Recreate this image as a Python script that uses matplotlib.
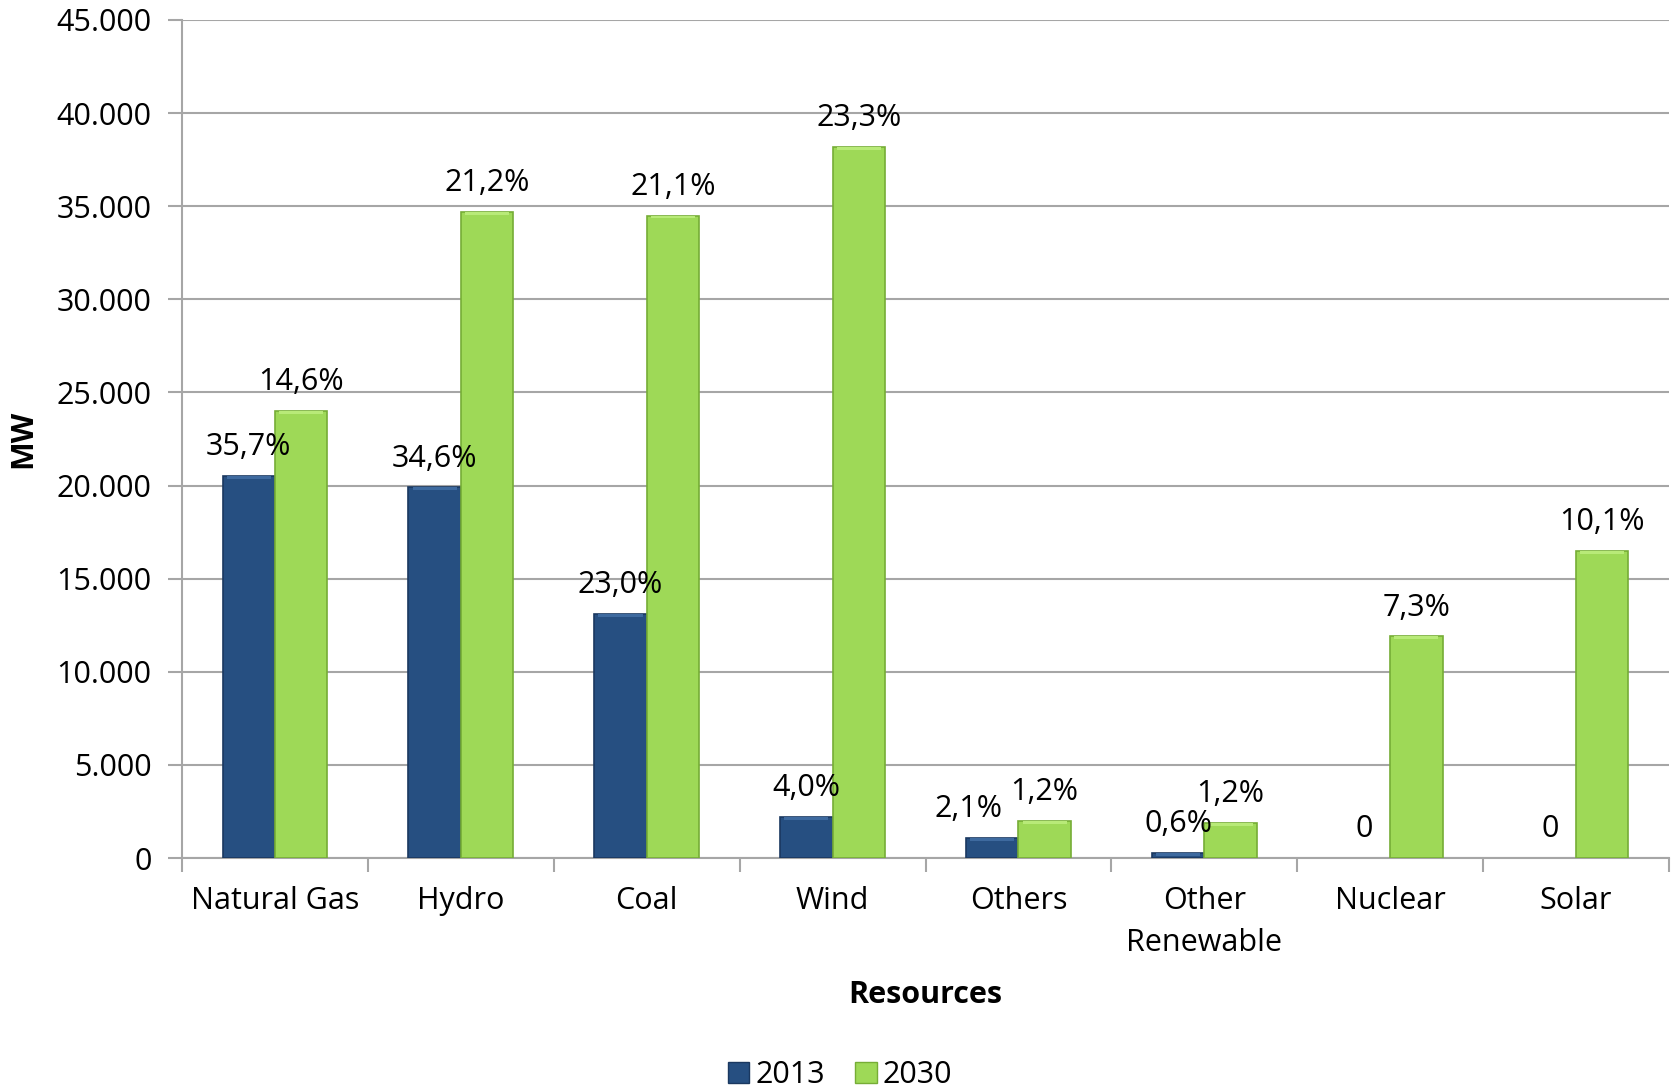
import matplotlib
matplotlib.use("Agg")
import matplotlib.pyplot as plt
from matplotlib.patches import Patch
from matplotlib.ticker import FuncFormatter
import numpy as np

# data
categories = ["Natural Gas", "Hydro", "Coal", "Wind", "Others", "Other\nRenewable", "Nuclear", "Solar"]
mw_2013 = [20500, 19900, 13100, 2200, 1100, 280, 0, 0]
mw_2030 = [24000, 34700, 34500, 38200, 2000, 1900, 11900, 16500]
pct_2013 = ["35,7%", "34,6%", "23,0%", "4,0%", "2,1%", "0,6%", "0", "0"]
pct_2030 = ["14,6%", "21,2%", "21,1%", "23,3%", "1,2%", "1,2%", "7,3%", "10,1%"]

blue = "#264F81"
blue_edge = "#1A3860"
green = "#9ED957"
green_edge = "#76AD36"
grid_col = "#A6A6A6"

plt.rcParams['font.family'] = ['Open Sans', 'DejaVu Sans']
FS = 22

fig = plt.figure(figsize=(16.73, 10.90), dpi=100)
ax = fig.add_axes([0.1088, 0.2128, 0.9976 - 0.1088, 0.9817 - 0.2128])

x = np.arange(len(categories))
w = 0.282

# zero bars get no outline, so nothing shows for them
lw13 = [1.2 if v > 0 else 0 for v in mw_2013]
lw30 = [1.2 if v > 0 else 0 for v in mw_2030]
b1 = ax.bar(x - w / 2, mw_2013, w, color=blue, edgecolor=blue_edge, linewidth=lw13, zorder=3)
b2 = ax.bar(x + w / 2, mw_2030, w, color=green, edgecolor=green_edge, linewidth=lw30, zorder=3)

# little highlight strip on the bar tops (Excel bevel look)
for bars, hl in ((b1, "#3E6A9F"), (b2, "#B8EA78")):
    for r in bars:
        if r.get_height() > 0:
            ax.add_patch(plt.Rectangle((r.get_x() + w * 0.08, r.get_height() - 160), w * 0.84, 160,
                                       color=hl, linewidth=0, zorder=4))

for i, (xi, v, t) in enumerate(zip(x - w / 2, mw_2013, pct_2013)):
    dx = -17 if categories[i] == "Others" else 0  # nudged left in the original
    ax.annotate(t, (xi, v), xytext=(dx, 10), textcoords="offset points",
                ha="center", va="bottom", fontsize=FS, zorder=5)
for xi, v, t in zip(x + w / 2, mw_2030, pct_2030):
    ax.annotate(t, (xi, v), xytext=(0, 10), textcoords="offset points",
                ha="center", va="bottom", fontsize=FS, zorder=5)

ax.set_ylim(0, 45000)
ax.set_xlim(-0.5, len(categories) - 0.5)
ax.set_yticks(np.arange(0, 45001, 5000))
ax.yaxis.set_major_formatter(FuncFormatter(lambda v, p: "{:,.0f}".format(v).replace(",", ".")))
ax.yaxis.grid(True, color=grid_col, linewidth=1.5, zorder=0)
ax.set_axisbelow(True)

ax.set_xticks(x)
ax.set_xticklabels(categories, fontsize=FS, linespacing=1.55)
ax.set_xticks(np.arange(-0.5, len(categories)), minor=True)
ax.tick_params(axis="x", which="major", length=0, pad=20)
ax.tick_params(axis="x", which="minor", length=10, width=1.5, color=grid_col)
ax.tick_params(axis="y", length=10, width=1.5, color=grid_col, labelsize=FS, pad=12)

for s in ("top", "right"):
    ax.spines[s].set_visible(False)
for s in ("left", "bottom"):
    ax.spines[s].set_color(grid_col)
    ax.spines[s].set_linewidth(1.5)

ax.set_ylabel("MW", fontsize=FS, fontweight="bold")
ax.yaxis.set_label_coords(-0.097, 0.5)
fig.text(0.553, 1 - 995 / 1090, "Resources", fontsize=FS, fontweight="bold", ha="center", va="center")

handles = [Patch(facecolor=blue, edgecolor=blue_edge, label="2013"),
           Patch(facecolor=green, edgecolor=green_edge, label="2030")]
fig.legend(handles=handles, loc="center", bbox_to_anchor=(0.502, 1 - 1075 / 1090), ncol=2,
           frameon=False, fontsize=FS, handlelength=0.7, handleheight=0.7,
           handletextpad=0.2, columnspacing=1.0)

fig.savefig("out.png", dpi=100)
